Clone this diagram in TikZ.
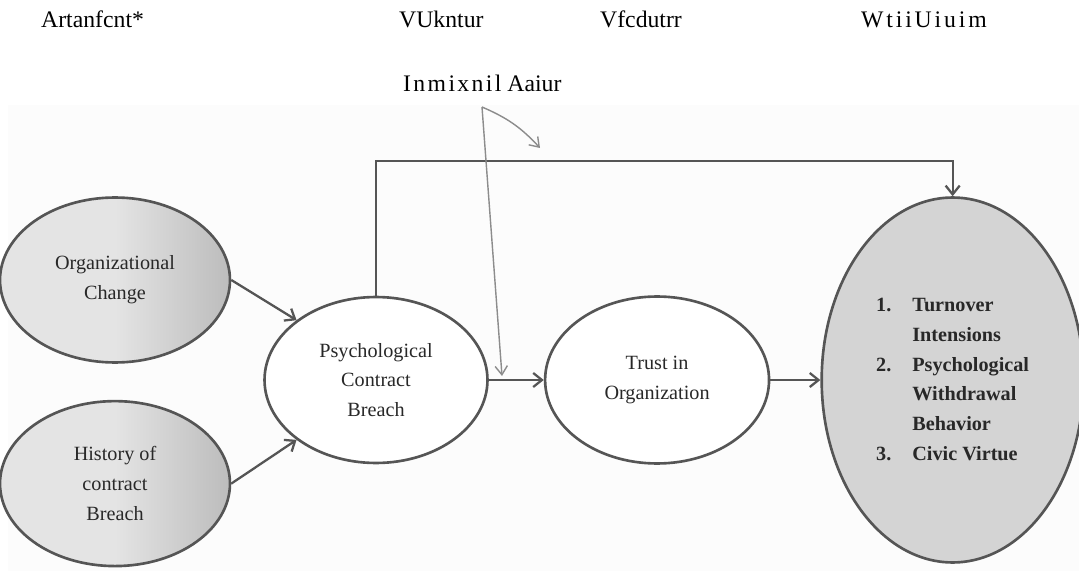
\documentclass[tikz,border=0pt]{standalone}
\usepackage{fontspec}
\setmainfont{Liberation Serif}
\newfontfamily\spacedfont[LetterSpace=12]{Liberation Serif}
\newfontfamily\lightspaced[LetterSpace=10]{Liberation Serif}
\usetikzlibrary{shapes.geometric,arrows.meta,positioning,calc}
\definecolor{inkgray}{RGB}{85,85,85}
\definecolor{textgray}{RGB}{40,40,40}
\definecolor{scanbg}{RGB}{252,252,252}
\definecolor{shadelight}{RGB}{228,228,228}
\definecolor{shadedark}{RGB}{188,188,188}
\definecolor{outfill}{RGB}{212,212,212}
\definecolor{modgray}{RGB}{140,140,140}

\begin{document}
\begin{tikzpicture}[
        x=0.02cm, y=-0.02cm,
        every node/.style={font=\fontsize{11.5}{17}\selectfont, text=textgray},
        blob/.style={ellipse, draw=inkgray, line width=1.5pt, inner sep=0pt, align=center},
        antecedent/.style={blob, left color=shadelight, right color=shadedark, middle color=shadelight, minimum width=4.6cm, minimum height=3.3cm},
        ocr/.style={anchor=base west, font=\fontsize{13.5}{16}\selectfont, text=black},
        arrow/.style={-{Straight Barb[length=5pt,width=8pt]}, line width=1.3pt, inkgray},
        thinarrow/.style={-{Straight Barb[length=5pt,width=7pt]}, line width=0.8pt, modgray}
    ]
        \useasboundingbox (0,0) rectangle (1079,571);
        \fill[scanbg] (8,105) rectangle (1079,571);

        % Scanned labels above the figure
        \node[ocr] (lblantecedent) at (35,28) {Artanfcnt*};
        \node[ocr] (lblmediator) at (393,28) {VUkntur};
        \node[ocr] (lblmoderator) at (594,28) {Vfcdutrr};
        \node[ocr, font=\spacedfont\fontsize{13.5}{16}\selectfont] (lbloutcome) at (855,28) {WtiiUiuim};
        \node[ocr] (lblinteraction) at (397,92) {{\lightspaced Inmixnil} Aaiur};

        \node[antecedent] (orgchange) at (115,280) {Organizational\\Change};
        \node[antecedent, below=0.72cm of orgchange] (history) {History of\\contract\\Breach};
        \node[blob, fill=white, minimum width=4.46cm, minimum height=3.32cm] (breach) at (376,380) {Psychological\\Contract\\Breach};
        \node[blob, fill=white, minimum width=4.48cm, minimum height=3.34cm, right=1.1cm of breach] (trust) {Trust in\\Organization};
        \node[blob, fill=outfill, minimum width=5.24cm, minimum height=7.3cm, right=1.0cm of trust,
              font=\bfseries\fontsize{11.5}{17}\selectfont] (outcomes)
              {\begin{tabular}{@{}l@{\hspace{0.42cm}}l@{}}1.&Turnover\\&Intensions\\2.&Psychological\\&Withdrawal\\&Behavior\\3.&Civic Virtue\end{tabular}};

        \draw[arrow] (orgchange.east) -- (breach.143);
        \draw[arrow] (history.east) -- (breach.217);
        \draw[arrow] (breach) -- (trust);
        \draw[arrow] (trust) -- (outcomes);

        % Direct path over the top
        \coordinate (rail) at (660,161);
        \draw[arrow] (breach.north) |- (rail) -| (outcomes.north);

        % Moderator lines
        \coordinate (modtop) at (482,107);
        \coordinate (modend) at (502,376);
        \coordinate (modarc) at (540,148);
        \draw[thinarrow] (modtop) -- (modend);
        \draw[thinarrow] (modtop) to[bend left=12] (modarc);
    \end{tikzpicture}
\end{document}
